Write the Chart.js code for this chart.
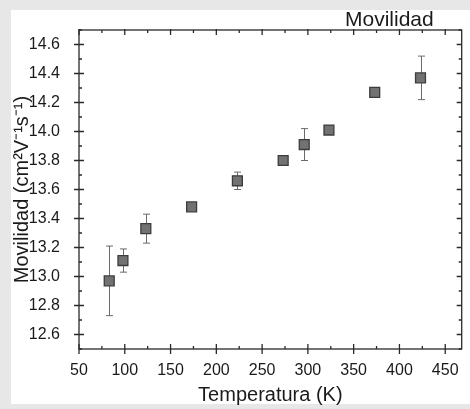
<!DOCTYPE html>
<html>
<head>
<meta charset="utf-8">
<script src="https://cdn.jsdelivr.net/npm/chart.js@4.4.1/dist/chart.umd.min.js"></script>
<style>
	body { margin: 0; background: #e7e7e7; }
	#wrap { position: relative; width: 470px; height: 409px; overflow: hidden; }
	#panel { position: absolute; left: 11px; top: 10px; width: 459px; height: 394px; background: #ffffff; }
	#chart { position: absolute; left: 0; top: 0; }
	#plotTitle {
		position: absolute; left: 345px; top: 8px;
		font: 21px "Liberation Sans", Arial, sans-serif; line-height: 21px; color: #1a1a1a;
	}
</style>
</head>
<body>
<div id="wrap">
	<div id="panel"></div>
	<canvas id="chart" width="470" height="409"></canvas>
	<div id="plotTitle">Movilidad</div>
</div>
<script>
// Temperatura (K) vs Movilidad
var temps = [83, 98, 123, 173, 223, 273, 296, 323, 373, 423];
var mobility = [12.97, 13.11, 13.33, 13.48, 13.66, 13.80, 13.91, 14.01, 14.27, 14.37];
var mobErr = [0.24, 0.08, 0.10, 0.02, 0.06, 0.02, 0.11, 0.02, 0.02, 0.15];

var xTicks = [50, 100, 150, 200, 250, 300, 350, 400, 450];
var yTicks = [12.6, 12.8, 13.0, 13.2, 13.4, 13.6, 13.8, 14.0, 14.2, 14.4, 14.6];

var FONT = "'Liberation Sans', Arial, sans-serif";

var points = temps.map(function (t, i) {
	return { x: t, y: mobility[i] };
});

// error bars under the markers
var errorBars = {
	id: "errorBars",
	beforeDatasetsDraw: function (chart) {
		var ctx = chart.ctx;
		var xs = chart.scales.x, ys = chart.scales.y;
		ctx.save();
		ctx.strokeStyle = "#6a6a6a";
		ctx.lineWidth = 1;
		temps.forEach(function (t, i) {
			var px = Math.round(xs.getPixelForValue(t)) + 0.5;
			var top = ys.getPixelForValue(mobility[i] + mobErr[i]);
			var bot = ys.getPixelForValue(mobility[i] - mobErr[i]);
			ctx.beginPath();
			ctx.moveTo(px, top);
			ctx.lineTo(px, bot);
			ctx.moveTo(px - 3.5, top);
			ctx.lineTo(px + 3.5, top);
			ctx.moveTo(px - 3.5, bot);
			ctx.lineTo(px + 3.5, bot);
			ctx.stroke();
		});
		ctx.restore();
	},
};

// box frame with major/minor ticks on all four sides
var frame = {
	id: "frame",
	afterDraw: function (chart) {
		var ctx = chart.ctx;
		var a = chart.chartArea;
		var xs = chart.scales.x, ys = chart.scales.y;
		ctx.save();
		ctx.strokeStyle = "#2a2a2a";
		ctx.lineWidth = 1.3;
		ctx.strokeRect(a.left, a.top, a.right - a.left, a.bottom - a.top);
		ctx.beginPath();
		xTicks.forEach(function (v, i) {
			var px = xs.getPixelForValue(v);
			ctx.moveTo(px, a.bottom + 5);
			ctx.lineTo(px, a.bottom - 5);
			ctx.moveTo(px, a.top - 1);
			ctx.lineTo(px, a.top + 5);
			var m = xs.getPixelForValue(v + 25);
			if (m < a.right - 2) {
				ctx.moveTo(m, a.bottom);
				ctx.lineTo(m, a.bottom - 3);
				ctx.moveTo(m, a.top);
				ctx.lineTo(m, a.top + 3);
			}
		});
		yTicks.forEach(function (v) {
			var py = ys.getPixelForValue(v);
			ctx.moveTo(a.left - 5, py);
			ctx.lineTo(a.left + 5, py);
			ctx.moveTo(a.right, py);
			ctx.lineTo(a.right - 5, py);
		});
		[12.5, 12.7, 12.9, 13.1, 13.3, 13.5, 13.7, 13.9, 14.1, 14.3, 14.5, 14.7].forEach(function (v) {
			var py = ys.getPixelForValue(v);
			ctx.moveTo(a.left, py);
			ctx.lineTo(a.left + 3, py);
			ctx.moveTo(a.right, py);
			ctx.lineTo(a.right - 3, py);
		});
		ctx.stroke();
		ctx.restore();
	},
};

new Chart(document.getElementById("chart"), {
	type: "scatter",
	data: {
		datasets: [
			{
				label: "Movilidad",
				data: points,
				pointStyle: "rect",
				pointRadius: 7,
				backgroundColor: "#727272",
				borderColor: "#3c3c3c",
				borderWidth: 1.3,
			},
		],
	},
	options: {
		responsive: false,
		animation: false,
		events: [],
		layout: { padding: { top: 30, right: 1, bottom: 0, left: 0 } },
		plugins: { legend: { display: false }, tooltip: { enabled: false } },
		scales: {
			x: {
				type: "linear",
				min: 50,
				max: 468,
				afterBuildTicks: function (scale) {
					scale.ticks = xTicks.map(function (v) { return { value: v }; });
				},
				afterFit: function (scale) { scale.height = 60; },
				grid: { display: false },
				border: { display: false },
				ticks: {
					padding: 4,
					color: "#1a1a1a",
					font: { family: FONT, size: 16 },
					maxRotation: 0,
					callback: function (v) { return String(v); },
				},
				title: {
					display: true,
					text: "Temperatura (K)",
					color: "#1a1a1a",
					font: { family: FONT, size: 20 },
					padding: { top: 0, bottom: 2 },
				},
			},
			y: {
				type: "linear",
				min: 12.5,
				max: 14.7,
				afterBuildTicks: function (scale) {
					scale.ticks = yTicks.map(function (v) { return { value: v }; });
				},
				afterFit: function (scale) { scale.width = 79; },
				grid: { display: false },
				border: { display: false },
				ticks: {
					padding: 11,
					color: "#1a1a1a",
					font: { family: FONT, size: 16 },
					callback: function (v) { return v.toFixed(1); },
				},
				title: {
					display: true,
					text: "Movilidad (cm²V⁻¹s⁻¹)",
					color: "#1a1a1a",
					font: { family: FONT, size: 20 },
					padding: { top: 10, bottom: 0 },
				},
			},
		},
	},
	plugins: [errorBars, frame],
});
</script>
</body>
</html>
